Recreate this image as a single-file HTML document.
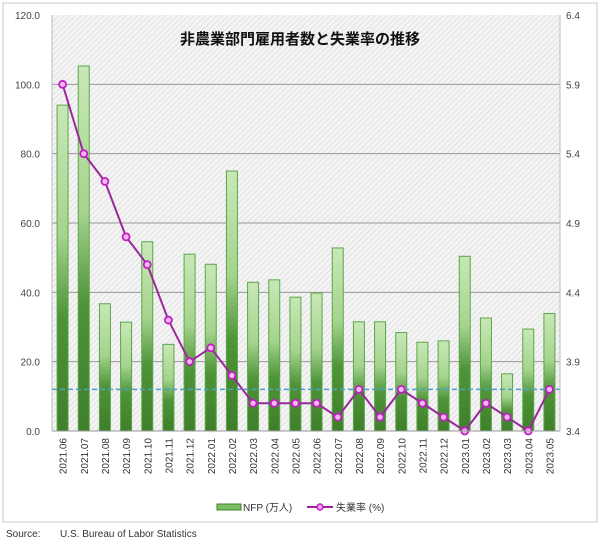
<!DOCTYPE html>
<html><head><meta charset="utf-8"><style>
body{margin:0;background:#fff;font-family:"Liberation Sans","Noto Sans CJK JP",sans-serif}
</style></head><body>
<svg id="c" width="600" height="542" xmlns="http://www.w3.org/2000/svg">
<defs>
<pattern id="hatch" width="4" height="4" patternUnits="userSpaceOnUse" patternTransform="rotate(45)">
<rect width="4" height="4" fill="#f4f4f4"/><line x1="0" y1="0" x2="0" y2="4" stroke="#dcdcdc" stroke-width="1.5"/></pattern>
<linearGradient id="bg" x1="0" y1="1" x2="0" y2="0">
<stop offset="0" stop-color="#3f7f2a"/><stop offset="0.35" stop-color="#4e9438"/><stop offset="0.6" stop-color="#a5d48e"/><stop offset="1" stop-color="#c8e8b6"/></linearGradient>
</defs>
<rect x="3" y="3" width="594" height="519" fill="#fff" stroke="#c8c8c8"/>
<rect x="52" y="15" width="508" height="416" fill="url(#hatch)"/>
<g id="grid"></g><g id="bars"></g><g id="line"></g><g id="axes"></g>
<text x="300" y="44" text-anchor="middle" font-size="15" font-weight="bold" fill="#111">非農業部門雇用者数と失業率の推移</text>
<g>
<rect x="217" y="504" width="24" height="6" fill="#7cbf62" stroke="#3f7f2a"/>
<text x="243" y="511" font-size="10" fill="#333">NFP (万人)</text>
<line x1="307" y1="507" x2="333" y2="507" stroke="#a020a0" stroke-width="2"/>
<circle cx="320" cy="507" r="3" fill="#f3a3f3" stroke="#c020c0" stroke-width="1.5"/>
<text x="336" y="511" font-size="10" fill="#333">失業率 (%)</text>
</g>
<text x="6" y="537" font-size="10" fill="#333">Source:</text>
<text x="60" y="537" font-size="10" fill="#333">U.S. Bureau of Labor Statistics</text>
</svg>
<script>
const categories=["2021.06","2021.07","2021.08","2021.09","2021.10","2021.11","2021.12","2022.01","2022.02","2022.03","2022.04","2022.05","2022.06","2022.07","2022.08","2022.09","2022.10","2022.11","2022.12","2023.01","2023.02","2023.03","2023.04","2023.05"];
const nfp=[94.0,105.3,36.7,31.4,54.6,25.0,51.0,48.1,75.0,42.9,43.6,38.6,39.8,52.8,31.5,31.5,28.4,25.6,26.0,50.4,32.6,16.5,29.4,33.9];
const unemp=[5.9,5.4,5.2,4.8,4.6,4.2,3.9,4.0,3.8,3.6,3.6,3.6,3.6,3.5,3.7,3.5,3.7,3.6,3.5,3.4,3.6,3.5,3.4,3.7];
const leftTicks=[0,20,40,60,80,100,120];
const rightTicks=[3.4,3.9,4.4,4.9,5.4,5.9,6.4];
const refRate=3.7;
const NS="http://www.w3.org/2000/svg";
const L=52,R=560,T=15,B=431;
const yL=v=>B-(v/120)*(B-T);
const yR=v=>B-((v-3.4)/3)*(B-T);
const slot=(R-L)/categories.length;
const xC=i=>L+slot*(i+0.5);
function mk(tag,attrs,parent,text){const e=document.createElementNS(NS,tag);for(const k in attrs)e.setAttribute(k,attrs[k]);if(text!==undefined)e.textContent=text;document.getElementById(parent).appendChild(e);return e;}
leftTicks.forEach((t,i)=>{
 if(t>0&&t<120){const g=mk('line',{x1:L,x2:R,y1:yL(t),y2:yL(t),stroke:'#999','stroke-width':1},'grid');
 
 }
 const lt=mk('text',{x:40,y:yL(t)+4,'text-anchor':'end','font-size':10,fill:'#444'},'axes',t.toFixed(1));
 
 
});
rightTicks.forEach(t=>{
 const rt=mk('text',{x:566,y:yR(t)+4,'font-size':10,fill:'#444'},'axes',t.toFixed(1));
 
 
});
mk('line',{x1:L,x2:R,y1:B,y2:B,stroke:'#999'},'axes');
mk('line',{x1:L,x2:L,y1:T,y2:B,stroke:'#bbb'},'axes');
mk('line',{x1:R,x2:R,y1:T,y2:B,stroke:'#bbb'},'axes');
categories.forEach((c,i)=>{
 const h=yL(0)-yL(nfp[i]);
 const b=mk('rect',{x:xC(i)-5.5,y:yL(nfp[i]),width:11,height:h,fill:'url(#bg)',stroke:'#5aa64a','stroke-width':1},'bars');
 
 
 const x=xC(i)+4;
 const lb=mk('text',{x:x,y:438,transform:`rotate(-90 ${x} 438)`,'text-anchor':'end','font-size':10,fill:'#333'},'axes',c);
 
 
});
const ref=mk('line',{x1:L,x2:R,y1:yR(refRate),y2:yR(refRate),stroke:'#4a9fd0','stroke-width':1.5,'stroke-dasharray':'5,3'},'line');


const pl=mk('polyline',{points:unemp.map((v,i)=>xC(i)+','+yR(v)).join(' '),fill:'none',stroke:'#9a2a9a','stroke-width':2},'line');


unemp.forEach((v,i)=>{
 const p=mk('circle',{cx:xC(i),cy:yR(v),r:3.5,fill:'#f5b8f5',stroke:'#c020c0','stroke-width':1.8},'line');
 
 
});
</script>
</body></html>
